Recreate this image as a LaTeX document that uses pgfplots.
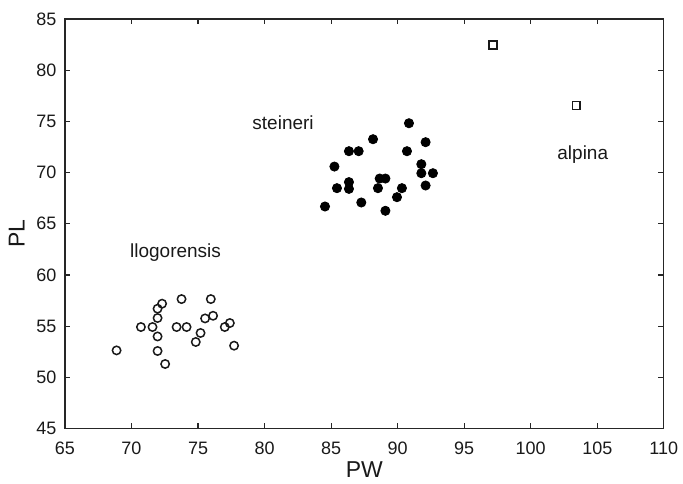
\documentclass[border=0pt]{standalone}
\usepackage{fontspec}
\setmainfont{Liberation Sans}
\usepackage{pgfplots}
\pgfplotsset{compat=1.18}
\begin{document}
\begin{tikzpicture}
\begin{axis}[
  at={(0,0)}, anchor=south west,
  scale only axis,
  width=599.4bp, height=410bp,
  xmin=65, xmax=110, ymin=45, ymax=85,
  xtick={65,70,...,110}, ytick={45,50,...,85},
  tick align=inside,
  major tick length=5.5bp,
  axis line style={line width=1.3bp, black!85},
  every tick/.style={line width=1.2bp, black!85},
  /pgf/number format/assume math mode=true,
  tick label style={font=\fontsize{18bp}{21bp}\selectfont, text=black!90, inner sep=0pt},
  xticklabel style={anchor=base, yshift=-26.3bp},
  yticklabel style={anchor=east, xshift=-8.3bp},
  xlabel={PW}, ylabel={PL},
  label style={font=\fontsize{23bp}{27bp}\selectfont, text=black!90, inner sep=0pt},
  xlabel style={at={([yshift=-41bp]axis description cs:0.5,0)}, anchor=center},
  ylabel style={at={([xshift=-48.3bp,yshift=-10bp]axis description cs:0,0.5)}, anchor=center, rotate=0},
  clip=false,
]
% llogorensis (open circles)
\addplot[only marks, mark=o, mark size=4.2bp, mark options={line width=1.5bp, black!90, fill=white}] coordinates {
(68.88,52.64) (70.71,54.92) (71.58,54.92) (71.96,56.71) (72.30,57.20)
(71.96,55.80) (71.96,54.00) (71.96,52.58) (72.53,51.31) (73.76,57.65)
(73.39,54.92) (74.14,54.92) (75.19,54.34) (74.83,53.46) (75.53,55.76)
(76.13,56.02) (75.96,57.65) (77.01,54.92) (77.39,55.31) (77.71,53.10)
};
% steineri (filled circles)
\addplot[only marks, mark=*, mark size=4.6bp, mark options={line width=0.8bp, black, fill=black}] coordinates {
(90.85,74.82) (88.15,73.26) (92.10,72.97) (86.34,72.09) (87.07,72.09)
(90.70,72.09) (85.25,70.59) (91.78,70.82) (91.78,69.94) (92.65,69.94)
(88.65,69.42) (89.08,69.42) (86.34,69.07) (86.34,68.41) (85.44,68.48)
(88.52,68.48) (90.32,68.48) (92.10,68.74) (89.95,67.60) (87.27,67.08)
(84.54,66.69) (89.08,66.27)
};
% alpina (open squares)
\addplot[only marks, mark=square, mark size=3.9bp, mark options={line width=1.5bp, black!90}] coordinates {
(97.16,82.46) (103.42,76.54)
};
\node[font=\fontsize{19bp}{22bp}\selectfont, text=black!90, inner sep=0pt] at (axis cs:73.31,62.2) {llogorensis};
\node[font=\fontsize{19bp}{22bp}\selectfont, text=black!90, inner sep=0pt] at (axis cs:81.39,74.88) {steineri};
\node[font=\fontsize{19bp}{22bp}\selectfont, text=black!90, inner sep=0pt] at (axis cs:103.91,71.73) {alpina};
\end{axis}
\pgfresetboundingbox
\path (-65bp,-55bp) rectangle (618.6bp,429bp);
\end{tikzpicture}
\end{document}
